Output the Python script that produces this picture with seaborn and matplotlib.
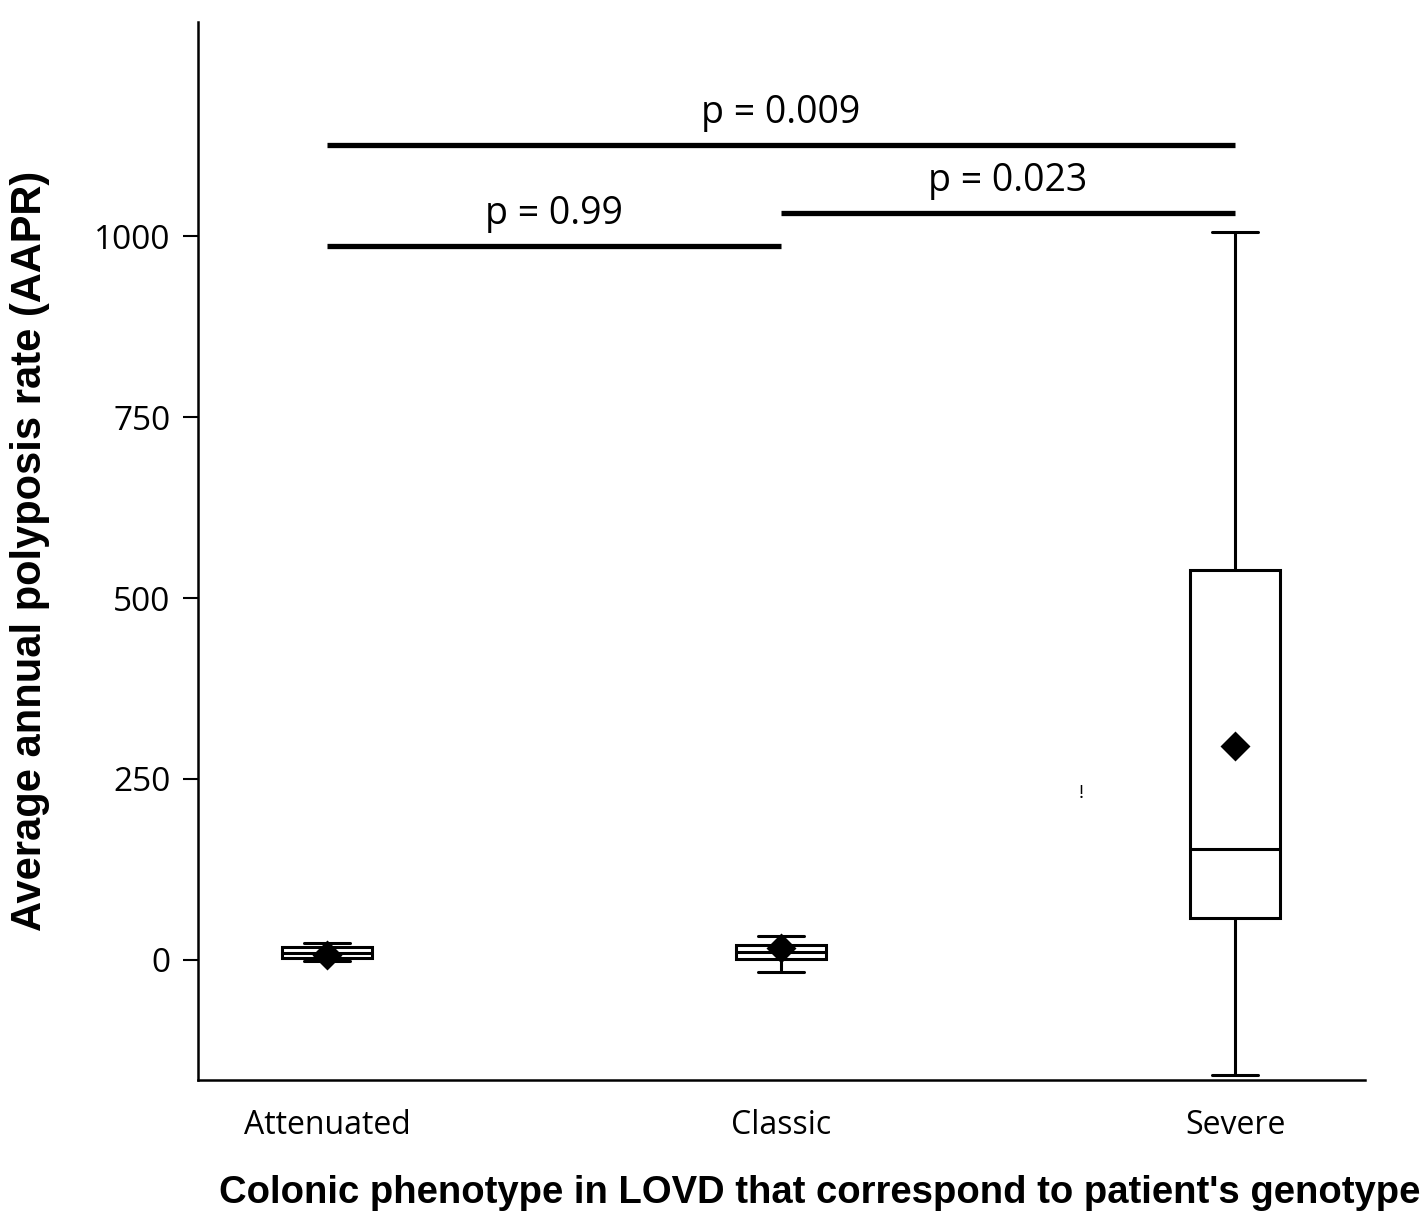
import matplotlib
matplotlib.use("Agg")
import matplotlib.pyplot as plt
import seaborn as sns
import pandas as pd
import numpy as np

# five-number summaries (lower whisker, q1, median, q3, upper whisker)
categories = ["Attenuated", "Classic", "Severe"]
attenuated = [-2, 3, 10, 18, 23]
classic = [-17, 1, 11, 21, 33]
severe = [-159, 58, 153, 539, 1006]
means = [7, 17, 296]

# pairwise comparisons
comp_pairs = [("Attenuated", "Severe"), ("Classic", "Severe"), ("Attenuated", "Classic")]
comp_heights = [1126, 1032, 986]
comp_labels = ["p = 0.009", "p = 0.023", "p = 0.99"]

yticks = [0, 250, 500, 750, 1000]

sns.set_style("ticks")
plt.rcParams["font.family"] = ["Open Sans", "DejaVu Sans"]
plt.rcParams.update({"text.color": "black", "axes.labelcolor": "black",
                     "xtick.color": "black", "ytick.color": "black",
                     "axes.edgecolor": "black"})

df = pd.DataFrame({
    "phenotype": np.repeat(categories, 5),
    "aapr": attenuated + classic + severe,
})

fig = plt.figure(figsize=(14.27, 12.15), dpi=100)
ax = fig.add_axes([0.1388, 0.1111, 0.8177, 0.8708])

sns.boxplot(data=df, x="phenotype", y="aapr", order=categories, whis=(0, 100),
            width=0.2, color="white", linecolor="black", linewidth=2.2, ax=ax)
sns.pointplot(x=categories, y=means, order=categories, linestyle="none", marker="D",
              color="black", markersize=13, errorbar=None, ax=ax)

for (a, b), h, lab in zip(comp_pairs, comp_heights, comp_labels):
    xa, xb = categories.index(a), categories.index(b)
    ax.plot([xa, xb], [h, h], color="black", lw=3.8, solid_capstyle="butt")
    ax.annotate(lab, xy=((xa + xb) / 2, h), xytext=(0, 23), textcoords="offset points",
                ha="center", va="center", fontsize=27)

ax.text(1.66, 230, "!", ha="center", va="center", fontsize=14)

ax.set_xlim(-0.284, 2.286)
ax.set_ylim(-166, 1296)
ax.set_yticks(yticks)
ax.tick_params(axis="y", length=11, width=1.5, labelsize=24, pad=9)
ax.tick_params(axis="x", length=0, labelsize=23, pad=21)
sns.despine(ax=ax)
for s in ["left", "bottom"]:
    ax.spines[s].set_linewidth(1.8)

ax.set_xlabel("Colonic phenotype in LOVD that correspond to patient's genotype",
              family="Liberation Sans", fontweight="bold", fontsize=27.5)
ax.set_ylabel("Average annual polyposis rate (AAPR)",
              family="Liberation Sans", fontweight="bold", fontsize=30)
ax.xaxis.set_label_coords(0.533, -0.09)
ax.yaxis.set_label_coords(-0.127, 0.5)

fig.savefig("out.png", dpi=100)
